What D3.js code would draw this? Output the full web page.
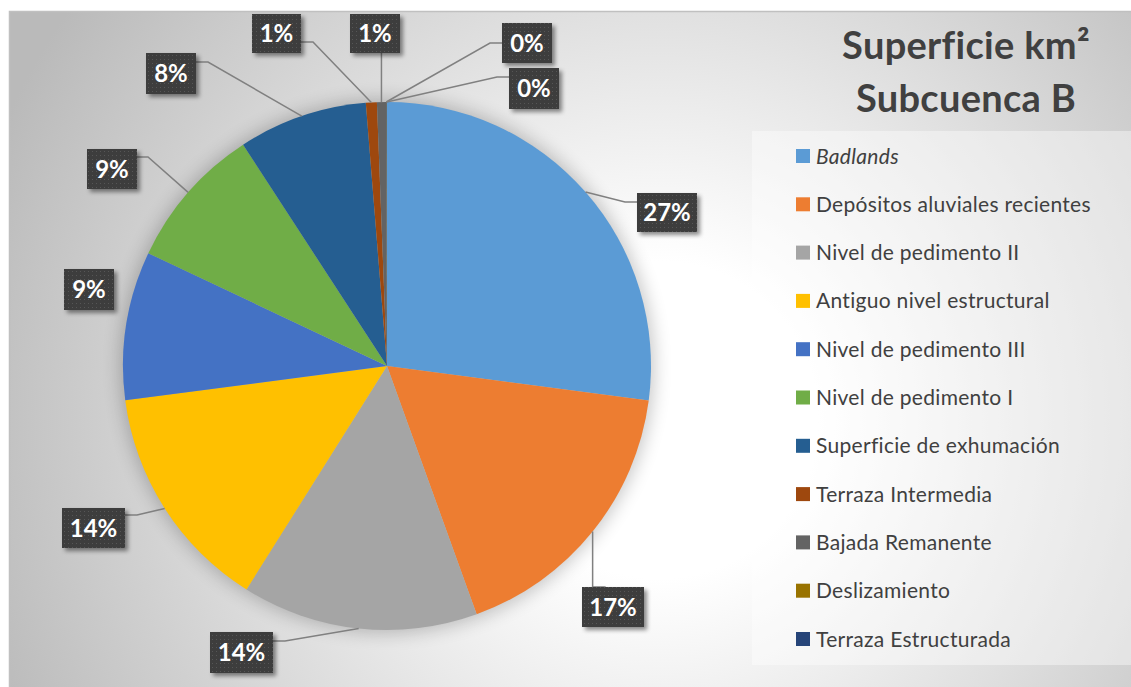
<!DOCTYPE html>
<html><head><meta charset="utf-8">
<script src="https://cdn.jsdelivr.net/npm/d3@7"></script>
<style>html,body{margin:0;padding:0;background:#fff;}svg{display:block;}</style>
</head><body>
<svg id="chart" width="1131" height="687"></svg>
<script>
// ---- data ----
const titleLines = ["Superficie km²", "Subcuenca B"];
const categories = ["Badlands", "Depósitos aluviales recientes", "Nivel de pedimento II",
  "Antiguo nivel estructural", "Nivel de pedimento III", "Nivel de pedimento I",
  "Superficie de exhumación", "Terraza Intermedia", "Bajada Remanente",
  "Deslizamiento", "Terraza Estructurada"];
const values = [27.1, 17.4, 14.45, 14.0, 9.1, 8.8, 7.9, 0.67, 0.55, 0.03, 0.03];
const colors = ["#5B9BD5", "#ED7D31", "#A5A5A5", "#FFC000", "#4472C4", "#70AD47",
  "#255E91", "#9E480E", "#636363", "#997300", "#264478"];
const italicCats = ["Badlands"];

// ---- layout (label boxes relative to pie centre: x, y, w, h, attach mode, attach y offset) ----
const cx = 387, cy = 366, R = 264;
const labelLayout = [
  {x: 250, y: -173, w: 60, h: 39, mode: "left", ay: 9, ex: -12},
  {x: 195, y: 221, w: 62, h: 40, mode: "top"},
  {x: -177, y: 266, w: 63, h: 41, mode: "right", ay: 9, ex: 12},
  {x: -325, y: 142, w: 63, h: 40, mode: "right", ay: 7, ex: 12},
  {x: -323, y: -97, w: 50, h: 41, mode: "none"},
  {x: -300, y: -217, w: 50, h: 40, mode: "right", ay: 8, ex: 11},
  {x: -241, y: -313, w: 50, h: 41, mode: "right", ay: 9, ex: 12},
  {x: -135, y: -352, w: 49, h: 39, mode: "right", ay: 28, ex: 12},
  {x: -37, y: -352, w: 50, h: 39, mode: "bottom"},
  {x: 115, y: -343, w: 50, h: 40, mode: "left", ay: 20, ex: -12},
  {x: 122, y: -298, w: 50, h: 41, mode: "left", ay: 9, ex: -12}
];

const svg = d3.select("#chart");
const defs = svg.append("defs");

const bg = defs.append("radialGradient").attr("id", "bg")
  .attr("gradientUnits", "userSpaceOnUse").attr("cx", 660).attr("cy", 420).attr("r", 720);
bg.append("stop").attr("offset", 0).attr("stop-color", "#ffffff");
bg.append("stop").attr("offset", 0.22).attr("stop-color", "#ffffff");
bg.append("stop").attr("offset", 1).attr("stop-color", "#bababa");

const pat = defs.append("pattern").attr("id", "dots").attr("width", 4).attr("height", 4)
  .attr("patternUnits", "userSpaceOnUse");
pat.append("rect").attr("width", 4).attr("height", 4).attr("fill", "#3d3d3d");
pat.append("rect").attr("x", 1).attr("y", 1).attr("width", 1).attr("height", 1).attr("fill", "#575757");

const sh = defs.append("filter").attr("id", "boxShadow").attr("x", "-30%").attr("y", "-30%").attr("width", "160%").attr("height", "160%");
sh.append("feDropShadow").attr("dx", 3).attr("dy", 3).attr("stdDeviation", 2)
  .attr("flood-color", "#000").attr("flood-opacity", 0.45);

const glow = defs.append("filter").attr("id", "glow").attr("x", "-20%").attr("y", "-20%").attr("width", "140%").attr("height", "140%");
glow.append("feGaussianBlur").attr("stdDeviation", 9);

// background
svg.append("rect").attr("width", 1131).attr("height", 687).attr("fill", "#fff");
svg.append("rect").attr("x", 9.5).attr("y", 11.5).attr("width", 1125).attr("height", 680)
  .attr("fill", "url(#bg)").attr("stroke", "#c0c0c0").attr("stroke-width", 1.5);

// legend box
svg.append("rect").attr("x", 752).attr("y", 131).attr("width", 379).attr("height", 534)
  .attr("fill", "#ffffff").attr("fill-opacity", 0.4);

// title
const title = svg.append("g").attr("font-family", "Lato, 'Open Sans', sans-serif")
  .attr("font-weight", "bold").attr("fill", "#404040").attr("text-anchor", "middle");
titleLines.forEach((t, i) => {
  title.append("text").attr("x", 966).attr("y", 59 + i * 53).attr("font-size", 38)
    .attr("letter-spacing", 0.3).text(t);
});

// pie
const pie = d3.pie().sort(null).value(d => d);
const arcs = pie(values);
const arc = d3.arc().innerRadius(0).outerRadius(R);
const edgeArc = d3.arc().innerRadius(R).outerRadius(R);
const g = svg.append("g").attr("transform", `translate(${cx},${cy})`);
g.append("circle").attr("r", R + 3).attr("fill", "#000").attr("opacity", 0.22).attr("filter", "url(#glow)");
g.selectAll("path.slice").data(arcs).join("path").attr("class", "slice")
  .attr("d", arc).attr("fill", (d, i) => colors[i]);

// leader lines and labels
const total = d3.sum(values);
const lg = g.append("g");
arcs.forEach((d, i) => {
  const L = labelLayout[i];
  const [sx, sy] = edgeArc.centroid(d);
  let pts = null;
  if (L.mode === "left") {
    const ay = L.y + L.ay;
    pts = [[sx, sy], [L.x + L.ex, ay], [L.x, ay]];
  } else if (L.mode === "right") {
    const ay = L.y + L.ay;
    pts = [[sx, sy], [L.x + L.w + L.ex, ay], [L.x + L.w, ay]];
  } else if (L.mode === "top") {
    pts = [[sx, sy], [sx, L.y], [sx + 13, L.y]];
  } else if (L.mode === "bottom") {
    pts = [[sx, sy], [sx, L.y + L.h]];
  }
  if (pts) {
    lg.append("path").attr("d", d3.line()(pts)).attr("fill", "none")
      .attr("stroke", "#808080").attr("stroke-width", 1.5);
  }
});
arcs.forEach((d, i) => {
  const L = labelLayout[i];
  const bx = lg.append("g");
  bx.append("rect").attr("x", L.x).attr("y", L.y).attr("width", L.w).attr("height", L.h)
    .attr("fill", "url(#dots)").attr("filter", "url(#boxShadow)");
  bx.append("text").attr("x", L.x + L.w / 2).attr("y", L.y + L.h / 2)
    .attr("dy", "0.36em").attr("text-anchor", "middle")
    .attr("font-family", "Lato, 'Open Sans', sans-serif").attr("font-weight", "bold")
    .attr("font-size", 24).attr("fill", "#ffffff")
    .text(Math.round(d.data / total * 100) + "%");
});

// legend
const leg = svg.append("g").attr("font-family", "Lato, 'Open Sans', sans-serif");
const ly = d3.scalePoint().domain(categories).range([156, 639]);
categories.forEach((c, i) => {
  const y = ly(c);
  leg.append("rect").attr("x", 796).attr("y", y - 7).attr("width", 14).attr("height", 14)
    .attr("fill", colors[i]);
  leg.append("text").attr("x", 816).attr("y", y).attr("dy", "0.36em")
    .attr("font-size", 21).attr("letter-spacing", 0.3).attr("fill", "#404040")
    .attr("font-style", italicCats.includes(c) ? "italic" : "normal").text(c);
});
</script>
</body></html>
